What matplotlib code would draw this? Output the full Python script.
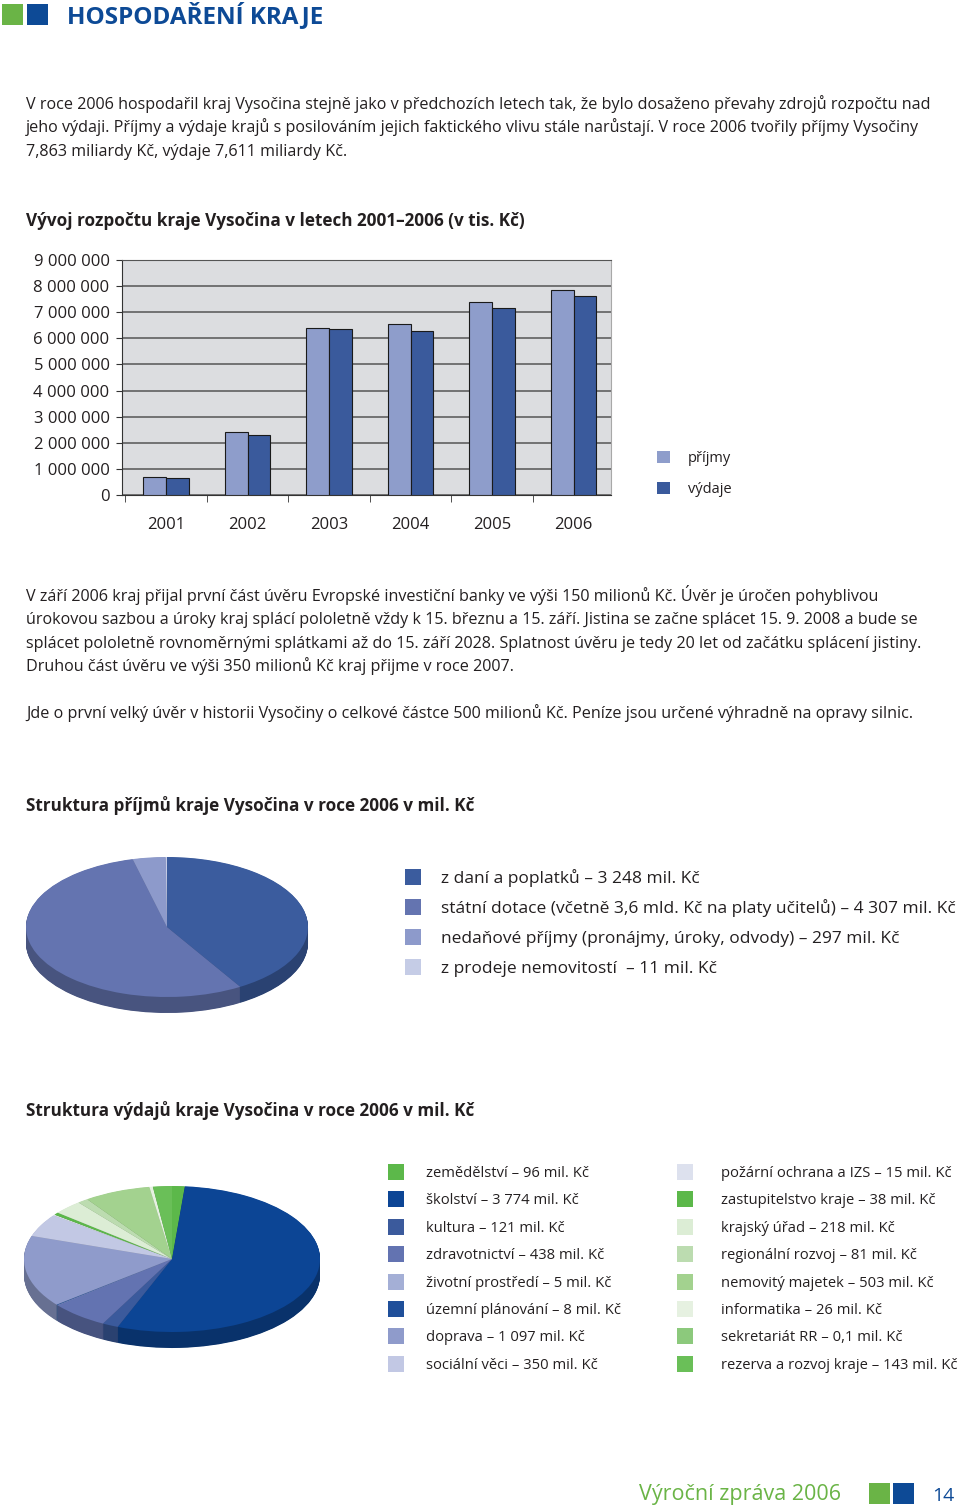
import matplotlib
matplotlib.use("Agg")
import matplotlib.pyplot as plt
import matplotlib.colors as mcolors
from matplotlib.patches import Rectangle
from matplotlib.ticker import FuncFormatter, MultipleLocator, FixedLocator
import numpy as np

plt.rcParams['font.family'] = ['Open Sans', 'DejaVu Sans']

W, H = 960, 1507
TEXT = '#231f20'
BLUE = '#0d4a96'
GREEN = '#6ab446'

# --- data -------------------------------------------------------------
years = ['2001', '2002', '2003', '2004', '2005', '2006']
prijmy = [680000, 2410000, 6400000, 6550000, 7410000, 7863000]
vydaje = [670000, 2310000, 6350000, 6280000, 7160000, 7611000]

income_labels = ['z daní a poplatků',
                 'státní dotace (včetně 3,6 mld. Kč na platy učitelů)',
                 'nedaňové příjmy (pronájmy, úroky, odvody)',
                 'z prodeje nemovitostí ']
income_values = [3248, 4307, 297, 11]
income_colors = ['#3b5c9e', '#6474b0', '#8d9acb', '#c5cce6']

expense_labels = ['zemědělství', 'školství', 'kultura', 'zdravotnictví',
                  'životní prostředí', 'územní plánování', 'doprava', 'sociální věci',
                  'požární ochrana a IZS', 'zastupitelstvo kraje', 'krajský úřad',
                  'regionální rozvoj', 'nemovitý majetek', 'informatika',
                  'sekretariát RR', 'rezerva a rozvoj kraje']
expense_values = [96, 3774, 121, 438, 5, 8, 1097, 350, 15, 38, 218, 81, 503, 26, 0.1, 143]
expense_colors = ['#5cb84a', '#0c4595', '#3b5a9c', '#6373b1', '#a4afd6', '#1f4f9a',
                  '#8f9bcb', '#c2c8e4', '#dde1ee', '#5cb84a', '#dcedd5', '#bcdcb0',
                  '#a3d28f', '#e6f1e1', '#8cc97c', '#6abf58']

intro = ['V roce 2006 hospodařil kraj Vysočina stejně jako v předchozích letech tak, že bylo dosaženo převahy zdrojů rozpočtu nad',
         'jeho výdaji. Příjmy a výdaje krajů s posilováním jejich faktického vlivu stále narůstají. V roce 2006 tvořily příjmy Vysočiny',
         '7,863 miliardy Kč, výdaje 7,611 miliardy Kč.']
loan = ['V září 2006 kraj přijal první část úvěru Evropské investiční banky ve výši 150 milionů Kč. Úvěr je úročen pohyblivou',
        'úrokovou sazbou a úroky kraj splácí pololetně vždy k 15. březnu a 15. září. Jistina se začne splácet 15. 9. 2008 a bude se',
        'splácet pololetně rovnoměrnými splátkami až do 15. září 2028. Splatnost úvěru je tedy 20 let od začátku splácení jistiny.',
        'Druhou část úvěru ve výši 350 milionů Kč kraj přijme v roce 2007.']
loan_end = 'Jde o první velký úvěr v historii Vysočiny o celkové částce 500 milionů Kč. Peníze jsou určené výhradně na opravy silnic.'


def fx(x):
    return x / W


def fy(y):
    return 1 - y / H


def fmt_num(v):
    if float(v).is_integer():
        return f"{int(v):,}".replace(',', ' ')
    return str(v).replace('.', ',')


def shade(c, f):
    return tuple(np.array(mcolors.to_rgb(c)) * f)


fig = plt.figure(figsize=(W / 100, H / 100), dpi=100)
fig.patch.set_facecolor('white')


def txt(x, y, s, **kw):
    kw.setdefault('color', TEXT)
    kw.setdefault('fontsize', 11.6)
    kw.setdefault('va', 'baseline')
    fig.text(fx(x), fy(y), s, **kw)


def square(x, y, size, color):
    fig.add_artist(Rectangle((fx(x), fy(y + size)), size / W, size / H,
                             transform=fig.transFigure, color=color, lw=0))


# header
square(2, 4, 21, GREEN)
square(27, 4, 21, BLUE)
txt(67, 23, 'HOSPODAŘENÍ KRAJE', color=BLUE, fontsize=17.5, fontweight='bold')

for i, line in enumerate(intro):
    txt(26, 109 + i * 23.5, line)

txt(26, 226, 'Vývoj rozpočtu kraje Vysočina v letech 2001–2006 (v tis. Kč)',
    fontsize=12.3, fontweight='bold')

# --- bar chart ----------------------------------------------------------
ax = fig.add_axes([fx(122), fy(495), (611 - 122) / W, (495 - 260) / H])
ax.set_facecolor('#dcdde0')
x = np.arange(len(years))
b1 = ax.bar(x - 0.14, prijmy, 0.28, color='#8e9dcb', edgecolor='#1a1a1a', lw=0.8, zorder=3)
b2 = ax.bar(x + 0.14, vydaje, 0.28, color='#3a5a9c', edgecolor='#1a1a1a', lw=0.8, zorder=3)
ax.set_xlim(-0.54, 5.46)
ax.set_ylim(0, 9e6)
ax.yaxis.set_major_locator(MultipleLocator(1e6))
ax.yaxis.set_major_formatter(FuncFormatter(lambda v, p: fmt_num(v)))
ax.grid(axis='y', color='#555555', lw=1.1, zorder=0)
ax.set_axisbelow(True)
ax.set_xticks(x)
ax.set_xticklabels(years)
ax.xaxis.set_minor_locator(FixedLocator(np.arange(-0.5, 6, 1.0)))
ax.tick_params(axis='x', which='major', length=0, pad=16, labelsize=12, labelcolor=TEXT)
ax.tick_params(axis='x', which='minor', length=5, color='#333333')
ax.tick_params(axis='y', length=4, pad=5, labelsize=12, labelcolor=TEXT, color='#333333')
for s in ['left', 'bottom']:
    ax.spines[s].set_color('#333333')
ax.spines['top'].set_color('#555555')
ax.spines['right'].set_color('#a8a8a8')

ax.legend([b1, b2], ['příjmy', 'výdaje'], loc='upper left', bbox_to_anchor=(fx(644), fy(438)),
          bbox_transform=fig.transFigure, frameon=False, fontsize=10.5,
          handlelength=0.9, handleheight=0.9, handletextpad=1.2, labelspacing=1.1,
          labelcolor=TEXT)
for h in ax.get_legend().legend_handles:
    h.set_edgecolor('none')

for i, line in enumerate(loan):
    txt(26, 601 + i * 23.4, line)
txt(26, 718, loan_end)


# --- pies -----------------------------------------------------------------
def pie3d(box, center, radii, depth, values, colors):
    x0, y0, x1, y1 = box
    cx, cy = center
    rx, ry = radii
    pa = fig.add_axes([fx(x0), fy(y1), (x1 - x0) / W, (y1 - y0) / H])
    d = depth / ry
    side = [shade(c, 0.72) for c in colors]
    steps = int(depth * 2)
    for k in range(steps, 0, -1):
        pa.pie(values, colors=side, startangle=90, counterclock=False,
               center=(0, -d * k / steps), wedgeprops=dict(linewidth=0))
    pa.pie(values, colors=colors, startangle=90, counterclock=False,
           wedgeprops=dict(linewidth=0))
    pa.set_aspect('auto')
    pa.set_xlim((x0 - cx) / rx, (x1 - cx) / rx)
    pa.set_ylim((cy - y1) / ry, (cy - y0) / ry)
    pa.axis('off')
    return pa


txt(26, 811, 'Struktura příjmů kraje Vysočina v roce 2006 v mil. Kč',
    fontsize=12.3, fontweight='bold')
pie3d((18, 846, 322, 1025), (167, 927), (141, 70), 16, income_values, income_colors)

for i, (lab, v, c) in enumerate(zip(income_labels, income_values, income_colors)):
    yc = 877 + i * 30
    square(405, yc - 8, 16, c)
    txt(441, yc + 6, f"{lab} – {fmt_num(v)} mil. Kč", fontsize=12.5)

txt(26, 1116, 'Struktura výdajů kraje Vysočina v roce 2006 v mil. Kč',
    fontsize=12.3, fontweight='bold')
pie3d((16, 1178, 326, 1362), (172, 1259), (148, 73), 16, expense_values, expense_colors)

for i, (lab, v, c) in enumerate(zip(expense_labels, expense_values, expense_colors)):
    col, row = divmod(i, 8)
    yc = 1172 + row * 27.4
    xs = 388 if col == 0 else 677
    xt = 426 if col == 0 else 721
    square(xs, yc - 8, 16, c)
    txt(xt, yc + 5, f"{lab} – {fmt_num(v)} mil. Kč", fontsize=10.6)

# footer
txt(740, 1500, 'Výroční zpráva 2006', color=GREEN, fontsize=15.5, ha='center')
square(869, 1483, 21, GREEN)
square(893, 1483, 21, BLUE)
txt(943, 1501, '14', color=BLUE, fontsize=14, ha='center')

fig.savefig('out.png', dpi=100)
